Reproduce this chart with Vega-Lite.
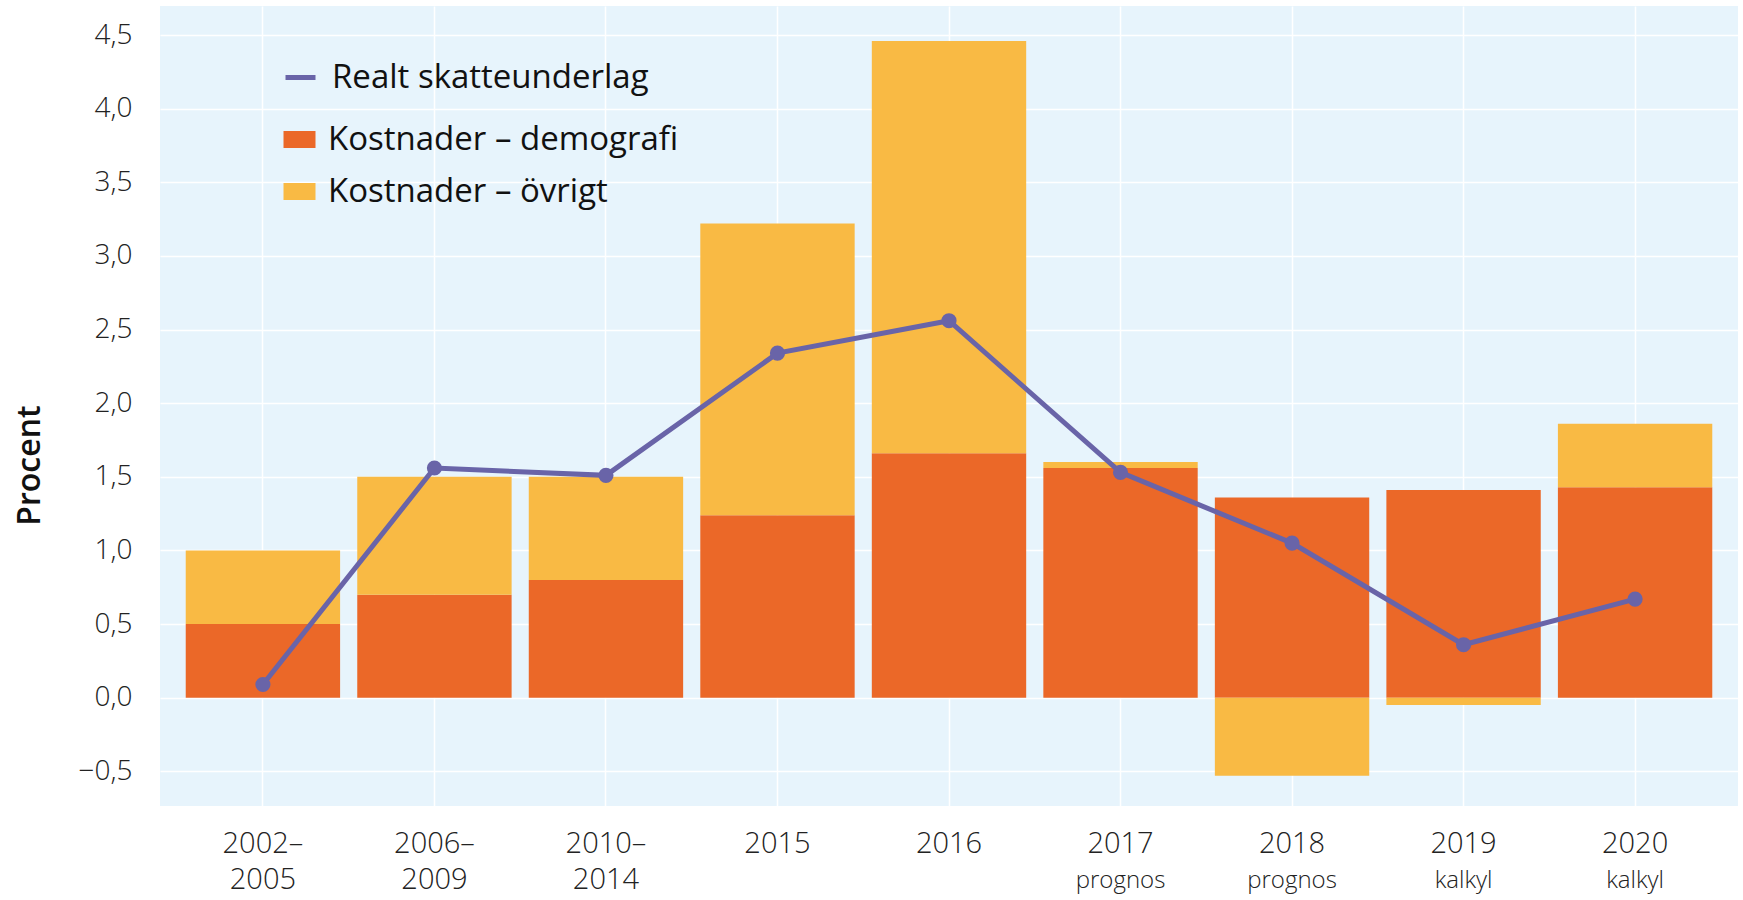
{
  "$schema": "https://vega.github.io/schema/vega-lite/v6.json",
  "width": 1578,
  "height": 800,
  "autosize": {"type": "none"},
  "padding": {"left": 160, "top": 6, "right": 5, "bottom": 94},
  "background": "white",
  "config": {
    "view": {"fill": "#E7F4FC", "stroke": null},
    "font": "Open Sans",
    "axisY": {
      "domain": false, "ticks": false, "grid": true, "gridColor": "#FFFFFF", "gridWidth": 1.5,
      "labelFont": "Open Sans", "labelFontSize": 28, "labelFontWeight": 300, "labelColor": "#222222", "labelPadding": 28,
      "titleFont": "Open Sans", "titleFontSize": 32, "titleFontWeight": 600,
      "titleColor": "#111111", "titleX": -131, "titleY": 459, "titleAngle": 270,
      "titleBaseline": "middle", "titleAlign": "center"
    }
  },
  "datasets": {
    "bars": [
      {"period": "2002–2005", "serie": "Kostnader – demografi", "ord": 1, "value": 0.50},
      {"period": "2002–2005", "serie": "Kostnader – övrigt", "ord": 2, "value": 0.50},
      {"period": "2006–2009", "serie": "Kostnader – demografi", "ord": 1, "value": 0.70},
      {"period": "2006–2009", "serie": "Kostnader – övrigt", "ord": 2, "value": 0.80},
      {"period": "2010–2014", "serie": "Kostnader – demografi", "ord": 1, "value": 0.80},
      {"period": "2010–2014", "serie": "Kostnader – övrigt", "ord": 2, "value": 0.70},
      {"period": "2015", "serie": "Kostnader – demografi", "ord": 1, "value": 1.24},
      {"period": "2015", "serie": "Kostnader – övrigt", "ord": 2, "value": 1.98},
      {"period": "2016", "serie": "Kostnader – demografi", "ord": 1, "value": 1.66},
      {"period": "2016", "serie": "Kostnader – övrigt", "ord": 2, "value": 2.80},
      {"period": "2017 prognos", "serie": "Kostnader – demografi", "ord": 1, "value": 1.56},
      {"period": "2017 prognos", "serie": "Kostnader – övrigt", "ord": 2, "value": 0.04},
      {"period": "2018 prognos", "serie": "Kostnader – demografi", "ord": 1, "value": 1.36},
      {"period": "2018 prognos", "serie": "Kostnader – övrigt", "ord": 2, "value": -0.53},
      {"period": "2019 kalkyl", "serie": "Kostnader – demografi", "ord": 1, "value": 1.41},
      {"period": "2019 kalkyl", "serie": "Kostnader – övrigt", "ord": 2, "value": -0.05},
      {"period": "2020 kalkyl", "serie": "Kostnader – demografi", "ord": 1, "value": 1.43},
      {"period": "2020 kalkyl", "serie": "Kostnader – övrigt", "ord": 2, "value": 0.43}
    ],
    "line": [
      {"period": "2002–2005", "value": 0.09},
      {"period": "2006–2009", "value": 1.56},
      {"period": "2010–2014", "value": 1.51},
      {"period": "2015", "value": 2.34},
      {"period": "2016", "value": 2.56},
      {"period": "2017 prognos", "value": 1.53},
      {"period": "2018 prognos", "value": 1.05},
      {"period": "2019 kalkyl", "value": 0.36},
      {"period": "2020 kalkyl", "value": 0.67}
    ]
  },
  "layer": [
    {
      "data": {"name": "bars"},
      "mark": {"type": "bar"},
      "encoding": {
        "x": {
          "field": "period", "type": "nominal", "sort": null,
          "scale": {"paddingInner": 0.1, "paddingOuter": 0.15},
          "axis": {
            "title": null, "orient": "bottom", "domain": false, "ticks": false,
            "grid": true, "gridColor": "#FFFFFF", "gridWidth": 1.5,
            "labelAngle": 0, "labelFont": "Open Sans", "labelFontSize": 29, "labelFontWeight": 300, "labelColor": "#222222",
            "labelPadding": 23, "labelLineHeight": 36,
            "labelExpr": "indexof(datum.value, '–') > 0 ? [slice(datum.value, 0, 5), slice(datum.value, 5)] : split(datum.value, ' ')[0]"
          }
        },
        "y": {
          "field": "value", "type": "quantitative", "stack": "zero",
          "scale": {"domain": [-0.735, 4.697], "nice": false, "zero": false},
          "axis": {
            "values": [-0.5, 0, 0.5, 1, 1.5, 2, 2.5, 3, 3.5, 4, 4.5],
            "labelExpr": "replace(format(datum.value, '.1f'), '.', ',')",
            "title": "Procent"
          }
        },
        "fill": {
          "field": "serie", "type": "nominal",
          "scale": {"domain": ["Kostnader – demografi", "Kostnader – övrigt"], "range": ["#EB6828", "#F9BA44"]},
          "legend": {
            "title": null, "orient": "none", "legendX": 123, "legendY": 117,
            "symbolType": "M-1,-0.53H1V0.53H-1Z", "symbolSize": 1024, "symbolStrokeWidth": 0,
            "labelFont": "Open Sans", "labelFontSize": 33, "labelColor": "#111111", "labelLimit": 0,
            "labelOffset": 12, "rowPadding": 18
          }
        },
        "order": {"field": "ord", "type": "quantitative"}
      }
    },
    {
      "mark": {"type": "rule", "color": "#333333", "strokeWidth": 1.5},
      "encoding": {"y": {"datum": 0, "type": "quantitative"}}
    },
    {
      "data": {"name": "line"},
      "mark": {"type": "line", "strokeWidth": 5},
      "encoding": {
        "x": {
          "field": "period", "type": "nominal", "sort": null,
          "axis": {
            "title": null, "orient": "bottom", "domain": false, "ticks": false, "grid": false,
            "labelAngle": 0, "labelFont": "Open Sans", "labelFontSize": 24, "labelFontWeight": 300, "labelColor": "#222222",
            "labelPadding": 62,
            "labelExpr": "indexof(datum.value, ' ') > 0 ? split(datum.value, ' ')[1] : ''"
          }
        },
        "y": {"field": "value", "type": "quantitative"},
        "stroke": {
          "datum": "Realt skatteunderlag", "type": "nominal",
          "scale": {"domain": ["Realt skatteunderlag"], "range": ["#6964A8"]},
          "legend": {
            "title": null, "orient": "none", "legendX": 123, "legendY": 54,
            "symbolType": "stroke", "symbolSize": 900, "symbolStrokeWidth": 5,
            "labelFont": "Open Sans", "labelFontSize": 33, "labelColor": "#111111", "labelLimit": 0,
            "labelOffset": 14
          }
        }
      }
    },
    {
      "data": {"name": "line"},
      "mark": {"type": "point", "filled": true, "size": 230, "color": "#6964A8", "opacity": 1},
      "encoding": {
        "x": {"field": "period", "type": "nominal", "sort": null, "axis": null},
        "y": {"field": "value", "type": "quantitative"}
      }
    }
  ],
  "resolve": {"axis": {"x": "independent"}}
}
